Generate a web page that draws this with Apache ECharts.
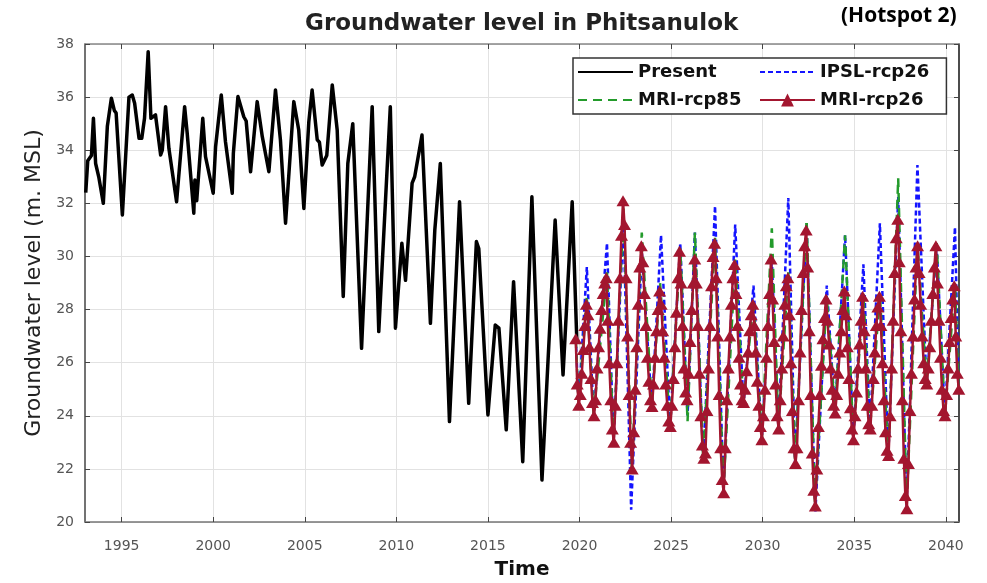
<!DOCTYPE html>
<html><head><meta charset="utf-8">
<script src="https://cdn.jsdelivr.net/npm/echarts@6/dist/echarts.min.js"></script>
<style>html,body{margin:0;padding:0;background:#fff}#c{width:987px;height:583px}</style>
</head><body><div id="c"></div><script>
// ---- data ----
const xTickYears = [1995, 2000, 2005, 2010, 2015, 2020, 2025, 2030, 2035, 2040];

const presentYears = [1993.04,1993.15,1993.35,1993.46,1993.58,1993.75,1994.0,1994.22,1994.44,1994.6,1994.7,1995.04,1995.4,1995.58,1995.71,1995.95,1996.1,1996.25,1996.45,1996.6,1996.85,1997.13,1997.22,1997.4,1997.58,1998.0,1998.44,1998.58,1998.94,1999.0,1999.1,1999.43,1999.58,2000.0,2000.13,2000.44,2000.67,2001.04,2001.1,2001.35,2001.67,2001.8,2002.04,2002.4,2002.68,2003.04,2003.4,2003.67,2003.95,2004.4,2004.67,2004.95,2005.22,2005.4,2005.68,2005.8,2005.95,2006.2,2006.5,2006.77,2007.1,2007.35,2007.62,2008.1,2008.68,2009.04,2009.67,2009.95,2010.3,2010.5,2010.86,2011.0,2011.4,2011.86,2012.1,2012.4,2012.9,2013.45,2013.95,2014.37,2014.5,2015.0,2015.4,2015.6,2016.0,2016.4,2016.9,2017.4,2017.95,2018.67,2019.1,2019.6,2019.85];
const presentLevels = [32.4,33.6,33.8,35.2,33.5,33.0,32.0,34.9,35.96,35.5,35.4,31.56,36.0,36.08,35.77,34.45,34.45,35.2,37.71,35.2,35.33,33.82,34.0,35.64,34.07,32.06,35.64,34.64,31.63,32.88,32.1,35.2,33.76,32.38,34.13,36.08,34.32,32.38,33.88,36.02,35.26,35.1,33.19,35.83,34.51,33.19,36.27,34.39,31.25,35.83,34.76,31.81,35.07,36.27,34.39,34.3,33.44,33.8,36.46,34.76,28.49,33.5,35.0,26.54,35.64,27.17,35.64,27.3,30.5,29.1,32.76,33.0,34.57,27.48,31.0,33.5,23.78,32.06,24.47,30.56,30.3,24.03,27.42,27.3,23.47,29.05,22.27,32.25,21.58,31.37,25.54,32.06,26.9];

// MRI-rcp26: monthly values from Oct 2019 to Sep 2040
const mriStartYear = 2019, mriStartMonth = 9; // October (0-based month)
const mriRcp26 = [
  26.9,25.2,24.4,
  24.8,25.6,26.5,27.4,28.2,27.8,26.6,25.4,24.5,24.0,24.6,25.8,
  26.6,27.3,28.0,28.6,29.0,29.2,27.6,26.0,24.6,23.5,23.0,24.4,
  26.0,27.6,29.2,30.8,32.1,31.2,29.2,27.0,24.8,23.0,22.0,23.4,
  25.0,26.6,28.2,29.6,30.4,29.8,28.6,27.4,26.2,25.3,24.6,24.35,
  25.2,26.2,27.2,28.0,28.7,28.2,27.2,26.2,25.2,24.4,23.8,23.6,
  24.4,25.4,26.6,27.9,29.2,30.2,29.0,27.4,25.8,24.9,24.6,25.6,
  26.8,28.0,29.0,29.9,29.0,27.4,25.6,24.0,22.9,22.4,22.6,24.2,
  25.8,27.4,28.9,30.0,30.5,29.2,27.0,24.8,22.8,21.6,21.1,22.8,
  24.6,25.8,27.0,28.2,29.2,29.7,28.6,27.4,26.2,25.2,24.6,24.5,
  25.0,25.7,26.4,27.2,27.8,28.2,27.4,26.4,25.3,24.4,23.6,23.1,
  24.0,25.0,26.2,27.4,28.6,29.9,28.4,26.8,25.2,24.0,23.5,24.6,
  25.8,27.0,28.2,28.9,29.2,27.8,26.0,24.2,22.8,22.2,22.8,24.6,
  26.4,28.0,29.4,30.4,31.0,29.6,27.2,24.8,22.6,21.2,20.6,22.0,
  23.6,24.8,25.9,26.9,27.7,28.4,27.6,26.7,25.8,25.0,24.4,24.1,
  24.8,25.6,26.4,27.2,28.0,28.7,27.8,26.6,25.4,24.3,23.5,23.1,
  24.0,24.9,25.8,26.7,27.6,28.5,27.2,25.8,24.4,23.7,23.5,24.4,
  25.4,26.4,27.4,28.1,28.5,27.4,26.0,24.6,23.4,22.7,22.5,24.0,
  25.8,27.6,29.4,30.7,31.4,29.8,27.2,24.6,22.4,21.0,20.5,22.2,
  24.2,25.6,27.0,28.4,29.6,30.4,29.4,28.2,27.0,26.0,25.4,25.2,
  25.8,26.6,27.6,28.6,29.6,30.4,29.0,27.6,26.2,25.0,24.2,24.0,
  24.8,25.8,26.8,27.7,28.4,28.9,27.0,25.6,25.0
];

// IPSL-rcp26: turning points (peaks / troughs)
const ipslYears = [2019.8,2019.95,2020.4,2020.77,2021.5,2021.86,2022.4,2022.82,2023.4,2023.95,2024.45,2024.95,2025.5,2025.9,2026.3,2026.75,2027.4,2027.86,2028.5,2028.95,2029.5,2029.95,2030.5,2030.86,2031.4,2031.77,2032.4,2032.88,2033.5,2033.95,2034.5,2034.95,2035.5,2035.86,2036.4,2036.86,2037.4,2037.86,2038.45,2038.95,2039.5,2039.95,2040.5,2040.7];
const ipslLevels = [26.9,24.4,29.6,24.0,30.5,23.0,31.3,20.46,30.2,24.3,30.8,23.6,30.5,24.0,30.9,22.3,31.9,21.2,31.2,24.4,28.9,23.1,29.9,23.5,32.2,22.2,31.2,20.4,28.9,24.1,30.8,23.1,29.7,23.5,31.25,22.5,32.25,20.6,33.44,25.2,30.4,24.0,31.1,25.0];

// MRI-rcp85: turning points (peaks / troughs)
const mri85Years = [2019.8,2019.95,2020.4,2020.77,2021.5,2021.86,2022.4,2022.86,2023.4,2023.95,2024.4,2024.95,2025.5,2025.9,2026.3,2026.75,2027.4,2027.86,2028.5,2028.95,2029.5,2029.95,2030.5,2030.86,2031.4,2031.77,2032.4,2032.86,2033.5,2033.95,2034.5,2034.95,2035.5,2035.86,2036.4,2036.86,2037.4,2037.86,2038.45,2038.95,2039.5,2039.95,2040.5,2040.7];
const mri85Levels = [26.9,24.4,28.5,24.0,29.4,23.0,31.8,22.0,30.9,24.4,29.0,23.6,30.3,23.8,30.9,22.4,30.7,21.2,29.9,24.5,28.3,23.1,31.06,23.5,29.4,22.3,31.37,20.7,28.5,24.1,30.8,23.1,28.6,23.5,28.6,22.5,32.94,20.6,30.5,25.2,30.5,24.0,29.0,25.0];

// ---- build series data ----
const zip = (xs, ys) => xs.map((x, i) => [x, ys[i]]);
const presentData = zip(presentYears, presentLevels);
const ipslData = zip(ipslYears, ipslLevels);
const mri85Data = zip(mri85Years, mri85Levels);
const mri26Data = mriRcp26.map((v, i) => {
  const m = mriStartMonth + i;
  return [mriStartYear + (m + 0.5) / 12, v];
});

const chart = echarts.init(document.getElementById('c'), null, {renderer: 'canvas'});
const legendText = {fontFamily: 'DejaVu Sans', fontWeight: 'bold', fontSize: 18, color: '#111'};
const noSym = {opacity: 0};
const XMIN = 1993, XMAX = 2040.72;
chart.setOption({
  animation: false,
  backgroundColor: '#fff',
  title: [
    {text: 'Groundwater level in Phitsanulok', left: 300, top: 8,
     textStyle: {fontFamily: 'DejaVu Sans', fontWeight: 'bold', fontSize: 23, color: '#222'}},
    {text: '(Hotspot 2)', left: 836, top: 1,
     textStyle: {fontFamily: 'Open Sans', fontWeight: 'bold', fontSize: 21, color: '#000'}}
  ],
  legend: [
    {data: [{name: 'Present', itemStyle: noSym}, {name: 'MRI-rcp85', itemStyle: noSym}],
     orient: 'vertical', left: 573, top: 58,
     padding: [5, 205, 5, 4], itemGap: 10, itemWidth: 55, itemHeight: 16,
     selectedMode: false, borderColor: '#333', borderWidth: 1.5, backgroundColor: '#fff',
     textStyle: legendText},
    {data: [{name: 'IPSL-rcp26', itemStyle: noSym}, 'MRI-rcp26'], orient: 'vertical', left: 755, top: 58,
     padding: [5, 4, 5, 4], itemGap: 10, itemWidth: 55, itemHeight: 16,
     selectedMode: false, textStyle: legendText}
  ],
  grid: {left: 85, right: 28, top: 44, bottom: 61, containLabel: false, outerBoundsMode: 'none'},
  xAxis: [
    {type: 'value', min: XMIN, max: XMAX, position: 'bottom',
     name: 'Time', nameLocation: 'middle', nameGap: 38,
     nameTextStyle: {fontFamily: 'DejaVu Sans', fontWeight: 'bold', fontSize: 20, color: '#111'},
     axisLine: {show: true, onZero: false, lineStyle: {color: '#777', width: 1.5}},
     axisTick: {show: true, inside: true, length: 5, customValues: xTickYears, lineStyle: {color: '#444'}},
     axisLabel: {customValues: xTickYears, formatter: v => String(v), color: '#555', fontSize: 14,
                 fontFamily: 'DejaVu Sans', margin: 17},
     splitLine: {show: true, lineStyle: {color: '#e2e2e2', width: 1}}},
    {type: 'value', min: XMIN, max: XMAX, position: 'top',
     axisLine: {show: true, onZero: false, lineStyle: {color: '#888', width: 1.5}},
     axisTick: {show: true, inside: true, length: 5, customValues: xTickYears, lineStyle: {color: '#444'}},
     axisLabel: {show: false}, splitLine: {show: false}}
  ],
  yAxis: [
    {type: 'value', min: 20, max: 38, interval: 2, position: 'left',
     name: 'Groundwater level (m. MSL)', nameLocation: 'middle', nameGap: 36,
     nameTextStyle: {fontFamily: 'DejaVu Sans', fontSize: 22, color: '#222'},
     axisLine: {show: true, onZero: false, lineStyle: {color: '#444', width: 1.5}},
     axisTick: {show: true, inside: true, length: 5, lineStyle: {color: '#444'}},
     axisLabel: {color: '#555', fontSize: 14, fontFamily: 'DejaVu Sans', margin: 11},
     splitLine: {show: true, lineStyle: {color: '#e2e2e2', width: 1}}},
    {type: 'value', min: 20, max: 38, interval: 2, position: 'right',
     axisLine: {show: true, onZero: false, lineStyle: {color: '#111', width: 1.5}},
     axisTick: {show: true, inside: true, length: 5, lineStyle: {color: '#444'}},
     axisLabel: {show: false}, splitLine: {show: false}}
  ],
  series: [
    {name: 'Present', type: 'line', data: presentData, symbol: 'none', z: 3,
     color: '#000', lineStyle: {color: '#000', width: 3.5, join: 'round'}},
    {name: 'IPSL-rcp26', type: 'line', data: ipslData, symbol: 'none', z: 2,
     color: '#1414ff', lineStyle: {color: '#1414ff', width: 2.5, type: [5, 3]}},
    {name: 'MRI-rcp85', type: 'line', data: mri85Data, symbol: 'none', z: 2,
     color: '#239b2b', lineStyle: {color: '#239b2b', width: 2.5, type: [9, 6]}},
    {name: 'MRI-rcp26', type: 'line', data: mri26Data, symbol: 'triangle', symbolSize: [13, 11],
     showSymbol: true, z: 4, color: '#a3162f',
     itemStyle: {color: '#a3162f'}, lineStyle: {color: '#a3162f', width: 2.5}}
  ]
});
</script></body></html>
